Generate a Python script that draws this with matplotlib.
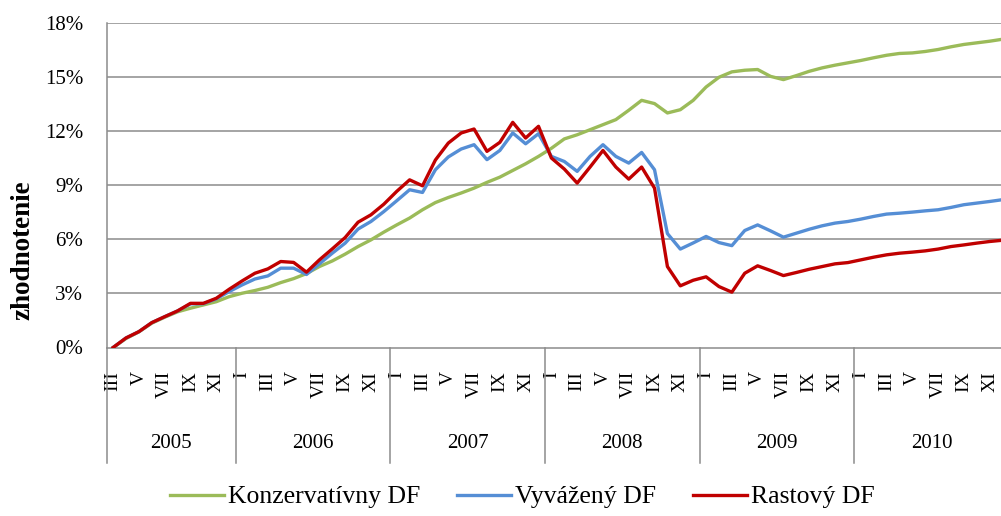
import matplotlib
matplotlib.use("Agg")
import matplotlib.pyplot as plt
from matplotlib.lines import Line2D
import matplotlib.transforms as mtransforms

# ---- data -------------------------------------------------------------
years = ["2005", "2006", "2007", "2008", "2009", "2010"]
year_months = [10, 12, 12, 12, 12, 12]   # 2005 starts in March
roman = ["I", "II", "III", "IV", "V", "VI", "VII", "VIII", "IX", "X", "XI", "XII"]
month_labels = roman[2:] + roman * 5

konzervativny = [0.0, 0.5, 0.87, 1.35, 1.68, 1.98, 2.18, 2.36, 2.54, 2.82,
                 3.01, 3.16, 3.34, 3.6, 3.82, 4.1, 4.49, 4.8, 5.18, 5.6, 5.97, 6.4,
                 6.8, 7.18, 7.64, 8.04, 8.32, 8.57, 8.84, 9.16, 9.45, 9.82, 10.19, 10.6,
                 11.05, 11.57, 11.8, 12.08, 12.36, 12.64, 13.16, 13.71, 13.53, 13.01, 13.19, 13.71,
                 14.45, 14.99, 15.29, 15.38, 15.42, 15.04, 14.86, 15.08, 15.32, 15.51, 15.66, 15.79,
                 15.92, 16.07, 16.21, 16.31, 16.34, 16.42, 16.53, 16.68, 16.81, 16.9, 16.99, 17.1]

vyvazeny = [0.0, 0.53, 0.88, 1.38, 1.71, 2.03, 2.42, 2.43, 2.7, 3.1,
            3.47, 3.8, 3.97, 4.4, 4.4, 4.05, 4.64, 5.23, 5.79, 6.57, 6.99, 7.54,
            8.14, 8.75, 8.6, 9.86, 10.57, 11.01, 11.25, 10.42, 10.93, 11.9, 11.3, 11.86,
            10.6, 10.32, 9.77, 10.6, 11.25, 10.6, 10.23, 10.82, 9.86, 6.32, 5.46, 5.8,
            6.16, 5.82, 5.65, 6.49, 6.8, 6.47, 6.12, 6.34, 6.56, 6.75, 6.9, 6.99,
            7.12, 7.27, 7.4, 7.45, 7.51, 7.58, 7.64, 7.77, 7.92, 8.01, 8.1, 8.2]

rastovy = [0.0, 0.53, 0.88, 1.38, 1.71, 2.03, 2.45, 2.45, 2.73, 3.23,
           3.69, 4.12, 4.36, 4.77, 4.72, 4.18, 4.86, 5.47, 6.1, 6.95, 7.36, 7.95,
           8.66, 9.3, 8.97, 10.4, 11.34, 11.9, 12.12, 10.88, 11.38, 12.49, 11.62, 12.27,
           10.51, 9.9, 9.12, 10.01, 10.93, 10.01, 9.34, 10.01, 8.84, 4.49, 3.42, 3.73,
           3.92, 3.38, 3.07, 4.12, 4.53, 4.27, 3.99, 4.16, 4.34, 4.49, 4.64, 4.71,
           4.86, 5.01, 5.14, 5.23, 5.29, 5.36, 5.46, 5.6, 5.69, 5.79, 5.88, 5.95]

series_names = ["Konzervatívny DF", "Vyvážený DF", "Rastový DF"]
series_colors = ["#9BBB59", "#558ED5", "#C00000"]
y_ticks = [0, 3, 6, 9, 12, 15, 18]

# ---- figure -----------------------------------------------------------
plt.rcParams["font.family"] = ["Liberation Serif", "DejaVu Serif"]
W, H = 1001, 516
fig = plt.figure(figsize=(W / 100, H / 100), dpi=100)
ax_left, ax_right, ax_top, ax_bot = 106.7, 1001, 23, 347.5
ax = fig.add_axes([ax_left / W, (H - ax_bot) / H,
                   (ax_right - ax_left) / W, (ax_bot - ax_top) / H])

x = list(range(len(konzervativny)))
for vals, name, col in zip([konzervativny, vyvazeny, rastovy], series_names, series_colors):
    ax.plot(x, vals, color=col, lw=2.4, label=name, solid_joinstyle="round", zorder=3)

px_per_cat = 12.89
ax.set_xlim(-0.5, -0.5 + (ax_right - ax_left) / px_per_cat)
ax.set_ylim(0, 18)

grid_col = "#8C8C8C"
ax.set_yticks(y_ticks)
ax.set_yticklabels([f"{v}%" for v in y_ticks], fontsize=15)
ax.tick_params(axis="y", length=0, pad=17)
for v in y_ticks[1:]:
    ax.axhline(v, color=grid_col, lw=1.1, zorder=1)

for s in ["top", "right"]:
    ax.spines[s].set_visible(False)
ax.spines["left"].set_color(grid_col)
ax.spines["bottom"].set_color(grid_col)
ax.spines["left"].set_linewidth(1.1)
ax.spines["bottom"].set_linewidth(1.1)

# month ticks (every second month)
tick_pos = list(range(0, len(month_labels), 2))
ax.set_xticks(tick_pos)
ax.set_xticklabels([month_labels[i] for i in tick_pos], rotation=90, fontsize=14)
ax.tick_params(axis="x", length=0, pad=17)

# year separators and labels
trans = mtransforms.blended_transform_factory(ax.transData, ax.transAxes)
ax_h_px = ax_bot - ax_top
sep_bottom = -(463 - ax_bot) / ax_h_px
year_label_y = -(443 - ax_bot) / ax_h_px
start = -0.5
bounds = [start]
for n in year_months:
    bounds.append(bounds[-1] + n)
for i, yr in enumerate(years):
    ax.add_line(Line2D([bounds[i], bounds[i]], [0, sep_bottom], transform=trans,
                       color=grid_col, lw=1.1, clip_on=False))
    ax.text((bounds[i] + bounds[i + 1]) / 2, year_label_y, yr, transform=trans,
            ha="center", va="center", fontsize=15, clip_on=False)

# y-axis title
fig.text(22.5 / W, (H - 250) / H, "zhodnotenie", rotation=90, ha="center", va="center",
         fontsize=19.5, fontweight="bold")

# legend
handles, labels = ax.get_legend_handles_labels()
fig.legend(handles, labels, loc="center", bbox_to_anchor=(522.5 / W, (H - 497) / H),
           ncol=3, frameon=False, fontsize=18.5, handlelength=2.1, handletextpad=0.15,
           columnspacing=1.45, borderpad=0, borderaxespad=0)

fig.savefig("out.png", dpi=100)
